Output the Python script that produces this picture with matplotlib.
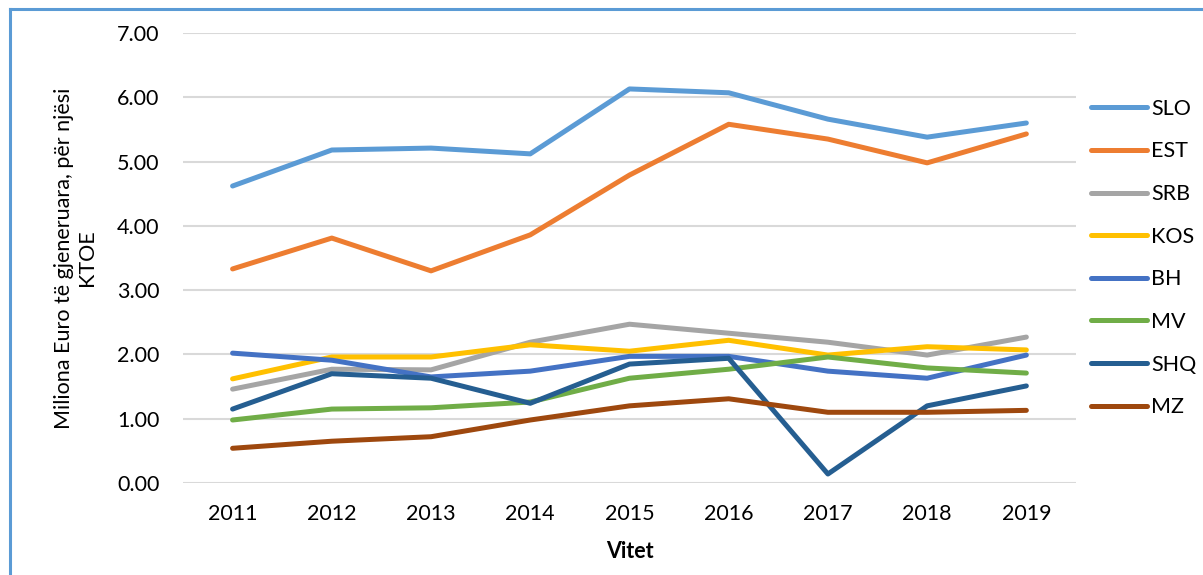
import matplotlib
matplotlib.use("Agg")
import matplotlib.pyplot as plt
from matplotlib.lines import Line2D

plt.rcParams['font.family'] = ['Lato', 'DejaVu Sans']

years = [2011, 2012, 2013, 2014, 2015, 2016, 2017, 2018, 2019]

slo = [4.62, 5.18, 5.21, 5.12, 6.13, 6.07, 5.66, 5.38, 5.60]
est = [3.33, 3.81, 3.30, 3.86, 4.79, 5.58, 5.35, 4.98, 5.43]
srb = [1.46, 1.77, 1.76, 2.19, 2.47, 2.33, 2.19, 1.99, 2.27]
kos = [1.62, 1.96, 1.96, 2.15, 2.05, 2.22, 1.99, 2.12, 2.07]
bh = [2.02, 1.91, 1.65, 1.74, 1.97, 1.97, 1.74, 1.63, 1.99]
mv = [0.98, 1.15, 1.17, 1.26, 1.63, 1.77, 1.96, 1.79, 1.71]
shq = [1.15, 1.70, 1.63, 1.24, 1.85, 1.94, 0.14, 1.20, 1.51]
mz = [0.54, 0.65, 0.72, 0.98, 1.20, 1.31, 1.10, 1.10, 1.13]

names = ['SLO', 'EST', 'SRB', 'KOS', 'BH', 'MV', 'SHQ', 'MZ']
colors = ['#5B9BD5', '#ED7D31', '#A5A5A5', '#FFC000',
          '#4472C4', '#70AD47', '#255E91', '#9E480E']
series = [slo, est, srb, kos, bh, mv, shq, mz]

fig = plt.figure(figsize=(12.03, 5.75), dpi=100)
ax = fig.add_axes([0.1521, 0.16, 0.7423, 0.7826])

# outer frame (blue border from the document)
fig.add_artist(Line2D([10 / 1203, 1], [1 - 9 / 575, 1 - 9 / 575],
                      color='#5B9BD5', lw=2.2, transform=fig.transFigure))
fig.add_artist(Line2D([10 / 1203, 10 / 1203], [0, 1 - 9 / 575],
                      color='#5B9BD5', lw=2.2, transform=fig.transFigure))

for name, vals, c in zip(names, series, colors):
    ax.plot(years, vals, color=c, lw=3.6, label=name,
            solid_capstyle='round', solid_joinstyle='round')

ax.set_xlim(2010.5, 2019.5)
ax.set_ylim(0, 7)
ax.set_yticks([0, 1, 2, 3, 4, 5, 6, 7])
ax.set_yticklabels(['%.2f' % v for v in range(8)])
ax.set_xticks(years)
ax.grid(axis='y', color='#D9D9D9', lw=1.5)
ax.set_axisbelow(True)
for s in ax.spines.values():
    s.set_visible(False)
ax.tick_params(length=0, labelsize=15.5, colors='black')
ax.tick_params(axis='y', pad=17)
ax.tick_params(axis='x', pad=15)

ax.set_xlabel('Vitet', fontsize=15.5, fontweight='bold', labelpad=12)
ax.set_ylabel('Miliona Euro të gjeneruara, për njësi\nKTOE', fontsize=15.5,
              labelpad=14, linespacing=1.2)

ax.legend(loc='center left', bbox_to_anchor=(1.0, 0.5), frameon=False,
          fontsize=15.5, handlelength=2.6, handletextpad=0.2,
          labelspacing=1.05, borderaxespad=0.3)

fig.savefig('out.png', dpi=100)
